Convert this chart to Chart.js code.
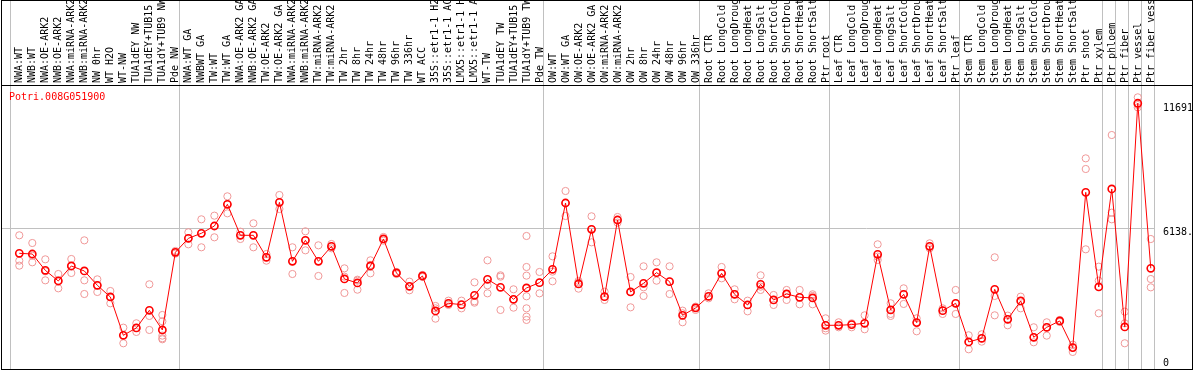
<!DOCTYPE html>
<html><head><meta charset="utf-8">
<script src="https://cdn.jsdelivr.net/npm/chart.js@4.4.0/dist/chart.umd.min.js"></script>
<style>html,body{margin:0;padding:0;background:#fff;overflow:hidden}canvas{display:block}</style>
</head><body>
<canvas id="c" width="1194" height="370"></canvas>
<script>
const geneName = 'Potri.008G051900';

const categories = [
  'NWA:WT','NWB:WT','NWA:OE-ARK2','NWB:OE-ARK2','NWA:miRNA-ARK2','NWB:miRNA-ARK2','NW 0hr','WT H2O','WT-NW','TUA1dEY NW','TUA1dEY+TUB15 NW','TUA1dY+TUB9 NW','Pde NW',
  'NWA:WT GA','NWBWT GA','TW:WT','TW:WT GA','NWA:OE-ARK2 GA','NWB:OE-ARK2 GA','TW:OE-ARK2','TW:OE-ARK2 GA','NWA:miRNA-ARK2','NWB:miRNA-ARK2','TW:miRNA-ARK2','TW:miRNA-ARK2',
  'TW 2hr','TW 8hr','TW 24hr','TW 48hr','TW 96hr','TW 336hr','WT ACC','35S::etr1-1 H2O','35S::etr1-1 ACC','LMX5::etr1-1 H2O','LMX5::etr1-1 ACC','WT-TW','TUA1dEY TW','TUA1dEY+TUB15 TW','TUA1dY+TUB9 TW','Pde TW',
  'OW:WT','OW:WT GA','OW:OE-ARK2','OW:OE-ARK2 GA','OW:miRNA-ARK2','OW:miRNA-ARK2','OW 2hr','OW 8hr','OW 24hr','OW 48hr','OW 96hr','OW 336hr',
  'Root CTR','Root LongCold','Root LongDrought','Root LongHeat','Root LongSalt','Root ShortCold','Root ShortDrought','Root ShortHeat','Root ShortSalt','Ptr root',
  'Leaf CTR','Leaf LongCold','Leaf LongDrought','Leaf LongHeat','Leaf LongSalt','Leaf ShortCold','Leaf ShortDrought','Leaf ShortHeat','Leaf ShortSalt','Ptr leaf',
  'Stem CTR','Stem LongCold','Stem LongDrought','Stem LongHeat','Stem LongSalt','Stem ShortCold','Stem ShortDrought','Stem ShortHeat','Stem ShortSalt','Ptr shoot','Ptr xylem',
  'Ptr phloem','Ptr fiber','Ptr vessel','Ptr fiber vessel'
];

const meanValues = [
  5009,4979,4252,3777,4445,4223,3584,3065,1359,1685,2472,1596,5054,
  5677,5900,6226,7191,5811,5811,4831,7280,4653,5588,4653,5321,3867,3689,4445,5648,4134,3540,4000,2442,2783,2724,3140,3852,3496,2961,3466,3703,
  4297,7250,3644,6078,3080,6493,3288,3674,4149,3748,2249,2576,
  3095,4119,3184,2709,3629,2932,3199,3051,3021,1804,
  1804,1834,1893,4965,2487,3184,1923,5321,2457,2783,
  1062,1225,3407,2071,2887,1270,1715,1997,810,7725,3511,
  7874,1730,11691,4342
];

const replicateValues = [
  [5811,4682,4460],[5468,4905,4608],[4741,4207,3806],[4088,3791,3450],[4756,4445,4133],[5587,3806,3197],
  [3850,3584,3287],[3331,3065,2783],[1699,1359,1003],[1893,1685,1507],[3629,2219,1596],[2263,1982,1344,1225,1181],[5113,5054,4994],
  [5945,5677,5410],[6523,5900,5277],[6686,6226,5722],[7547,7191,6790],[5974,5811,5647],[6345,5811,5277],[4979,4831,4682],[7606,7280,6982],
  [5277,4653,4088],[5989,5588,5142],[5365,4653,4000],[5424,5321,5232],[4340,3970,3243],[3835,3791,3390],[4697,4489,4119],[5736,5648,5573],
  [4178,4134,4088],[3748,3540,3362],[4045,4000,3955],[2664,2559,2099],[2901,2783,2709],[2901,2709,2559],[3717,2871,2811],[4697,3584,3227],
  [4029,3970,2487],[3406,2961,2590],[5781,4400,4015,3095,2559,2190,2041],[4178,3703,3227],
  [4875,4193,3763],[7784,7250,6671],[3777,3703,3436],[6657,6078,5498],[3302,3080,2932],[6627,6493,6374],[3954,3288,2604],[4430,3495,3110],
  [4608,4149,3791],[4430,3748,3197],[2457,2338,1938],[2634,2576,2487],
  [3227,3095,3005],[4400,4119,3895],[3406,3184,2961],[2901,2709,2425],[4029,3525,3377],[3153,2932,2709],[3377,3199,2932],[3377,3051,2739],
  [3184,3110,2739],[2114,1670,1566],
  [1937,1804,1715],[1893,1834,1715],[2248,1893,1626],[5410,4861,4712],[2783,2308,2219],[3450,3184,2754],[2114,1923,1536],[5454,5321,5232],
  [2559,2457,2308],[3377,2783,2308],
  [1359,1062,735],[1403,1225,1077],[4831,3110,2248],[2234,2071,1804],[3080,2887,2559],[1715,1270,1047],[1937,1715,1344],[2041,1997,1952],
  [942,810,617],[9238,8764,5187],[4415,3791,2338],
  [10277,6820,6523],[2412,1893,1003],[11955,11613,11509],[5646,3865,3494]
];

// first category index of each sample group (last entry = end)
const groupStarts = [0, 13, 41, 53, 63, 73, 84, 85, 86, 87, 88];
const yTickValues = [11691, 6138.5, 0];
const yTickLabels = ['11691', '6138.5', '0'];
const guideLineValue = 6138.5;

const FONT = '10px "DejaVu Sans Mono", "Liberation Mono", monospace';

const meanPoints = meanValues.map((v, i) => ({x: i, y: v}));
const repPoints = [];
replicateValues.forEach((arr, i) => arr.forEach(v => repPoints.push({x: i, y: v})));

const decorPlugin = {
  id: 'decor',
  beforeDatasetsDraw(chart) {
    const ctx = chart.ctx;
    const xs = chart.scales.x, ys = chart.scales.y;
    ctx.save();
    // grey group separators
    ctx.strokeStyle = '#c0c0c0';
    ctx.lineWidth = 1;
    groupStarts.forEach(k => {
      const px = Math.floor(xs.getPixelForValue(k - 0.68)) + 0.5;
      ctx.beginPath(); ctx.moveTo(px, 0); ctx.lineTo(px, 369); ctx.stroke();
    });
    // horizontal guide line
    const gy = Math.round(ys.getPixelForValue(guideLineValue)) + 0.5;
    const gxEnd = Math.floor(xs.getPixelForValue(88 - 0.68)) + 1;
    ctx.beginPath(); ctx.moveTo(1, gy); ctx.lineTo(gxEnd, gy); ctx.stroke();

    // top category labels (rotated)
    ctx.save();
    ctx.beginPath(); ctx.rect(1, 1, 1191, 84); ctx.clip();
    ctx.fillStyle = '#000';
    ctx.font = FONT;
    ctx.textAlign = 'left';
    ctx.textBaseline = 'alphabetic';
    categories.forEach((lab, i) => {
      const px = xs.getPixelForValue(i);
      ctx.save();
      ctx.translate(Math.round(px) + 3, 83);
      ctx.rotate(-Math.PI / 2);
      ctx.fillText(lab, 0, 0);
      ctx.restore();
    });
    ctx.restore();

    // gene title
    ctx.fillStyle = '#ff0000';
    ctx.font = FONT;
    ctx.textAlign = 'left';
    ctx.textBaseline = 'alphabetic';
    ctx.fillText(geneName, 9, 100);

    // y tick labels on the right
    ctx.save();
    ctx.beginPath(); ctx.rect(1157, 86, 35, 283); ctx.clip();
    ctx.fillStyle = '#000';
    yTickValues.forEach((v, i) => {
      const py = ys.getPixelForValue(v);
      const base = v === 0 ? py : py + 7.5;
      ctx.fillText(yTickLabels[i], 1163, Math.round(base));
    });
    ctx.restore();

    // black frame
    ctx.strokeStyle = '#000';
    ctx.lineWidth = 1;
    ctx.strokeRect(1.5, 0.5, 1191, 369);
    ctx.beginPath(); ctx.moveTo(1, 85.5); ctx.lineTo(1193, 85.5); ctx.stroke();
    ctx.restore();
  }
};

new Chart(document.getElementById('c').getContext('2d'), {
  type: 'line',
  data: {
    datasets: [
      {
        label: 'mean',
        data: meanPoints,
        borderColor: '#ff0000',
        borderWidth: 1,
        pointRadius: 3.6,
        pointBorderWidth: 1.6,
        pointBorderColor: '#ff0000',
        pointBackgroundColor: 'rgba(0,0,0,0)',
        tension: 0,
        fill: false
      },
      {
        label: 'replicates',
        data: repPoints,
        showLine: false,
        pointRadius: 3.6,
        pointBorderWidth: 1,
        pointBorderColor: '#f09898',
        pointBackgroundColor: 'rgba(0,0,0,0)',
        borderColor: '#f09898'
      }
    ]
  },
  options: {
    responsive: false,
    animation: false,
    devicePixelRatio: 1,
    layout: {autoPadding: false, padding: {left: 1, right: 2, top: 85, bottom: 1}},
    scales: {
      x: {type: 'linear', min: -1.407, max: 90.17, display: false},
      y: {type: 'linear', min: -142.5, max: 12504.5, display: false}
    },
    plugins: {legend: {display: false}, tooltip: {enabled: false}}
  },
  plugins: [decorPlugin]
});
</script>
</body></html>
